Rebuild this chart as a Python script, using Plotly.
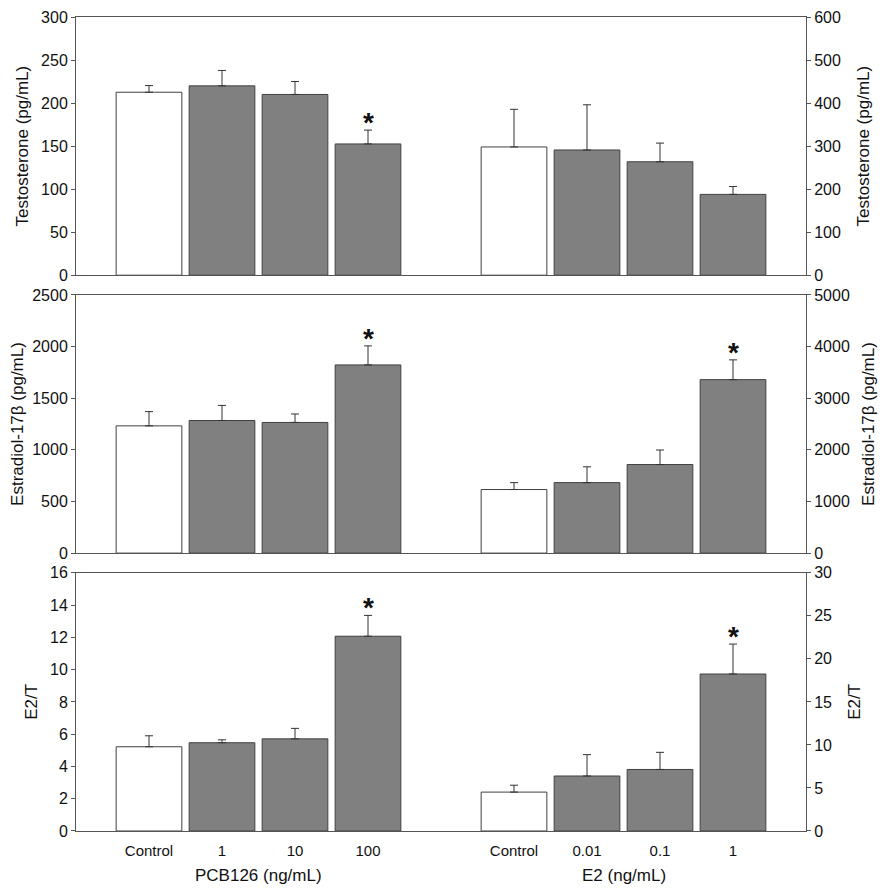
import plotly.graph_objects as go

# category positions: PCB126 group on left axis, E2 group on right axis
pcb_pos = [0, 1, 2, 3]
e2_pos = [5, 6, 7, 8]
tick_pos = pcb_pos + e2_pos
tick_text = ["Control", "1", "10", "100", "Control", "0.01", "0.1", "1"]

# Testosterone (pg/mL)
t_pcb = [212.6, 220.0, 210.0, 152.5]
t_pcb_err = [7.7, 17.9, 15.0, 16.1]
t_e2 = [298, 291, 263.6, 187.8]
t_e2_err = [87.5, 105, 43.4, 18.2]

# Estradiol-17b (pg/mL)
e_pcb = [1232, 1284, 1265, 1822]
e_pcb_err = [138, 146, 82, 184]
e_e2 = [1231, 1365, 1715, 3359]
e_e2_err = [134, 306, 281, 383]

# E2/T ratio
r_pcb = [5.22, 5.47, 5.71, 12.07]
r_pcb_err = [0.68, 0.18, 0.65, 1.29]
r_e2 = [4.52, 6.39, 7.15, 18.24]
r_e2_err = [0.80, 2.48, 1.99, 3.48]

# significance stars per panel
star_pcb = [[False, False, False, True],
            [False, False, False, True],
            [False, False, False, True]]
star_e2 = [[False, False, False, False],
           [False, False, False, True],
           [False, False, False, True]]

fill = ["#FFFFFF", "#808080", "#808080", "#808080"]
edge = "#404040"
axis_col = "#555555"
font_family = "Liberation Sans, Arial, sans-serif"
txt = "#111111"

rows = [
    dict(pcb=t_pcb, pcb_err=t_pcb_err, e2=t_e2, e2_err=t_e2_err,
         lrange=[0, 300], rrange=[0, 600], ldtick=50, rdtick=100,
         title="Testosterone (pg/mL)"),
    dict(pcb=e_pcb, pcb_err=e_pcb_err, e2=e_e2, e2_err=e_e2_err,
         lrange=[0, 2500], rrange=[0, 5000], ldtick=500, rdtick=1000,
         title="Estradiol-17β (pg/mL)"),
    dict(pcb=r_pcb, pcb_err=r_pcb_err, e2=r_e2, e2_err=r_e2_err,
         lrange=[0, 16], rrange=[0, 30], ldtick=2, rdtick=5,
         title="E2/T"),
]

# three panels of ~258 px with 20 px gaps
domains = [[0.6828, 1.0], [0.3414, 0.6586], [0.0, 0.3172]]

fig = go.Figure()
annotations = []
layout = {}

for i, r in enumerate(rows):
    xa = "x" if i == 0 else f"x{i + 1}"
    yl = "y" if i == 0 else f"y{2 * i + 1}"
    yr = f"y{2 * i + 2}"

    fig.add_trace(go.Bar(
        x=pcb_pos, y=r["pcb"], xaxis=xa, yaxis=yl, width=0.9,
        marker=dict(color=fill, line=dict(color=edge, width=1)),
        error_y=dict(type="data", array=r["pcb_err"], arrayminus=[0] * 4,
                     symmetric=False, color="#333333", thickness=1, width=4),
        showlegend=False,
    ))
    fig.add_trace(go.Bar(
        x=e2_pos, y=r["e2"], xaxis=xa, yaxis=yr, width=0.9,
        marker=dict(color=fill, line=dict(color=edge, width=1)),
        error_y=dict(type="data", array=r["e2_err"], arrayminus=[0] * 4,
                     symmetric=False, color="#333333", thickness=1, width=4),
        showlegend=False,
    ))

    for j in range(4):
        if star_pcb[i][j]:
            annotations.append(dict(
                x=pcb_pos[j], y=r["pcb"][j] + r["pcb_err"][j], xref=xa, yref=yl,
                text="<b>*</b>", showarrow=False, yanchor="bottom", yshift=-10,
                font=dict(size=28, color=txt, family=font_family)))
        if star_e2[i][j]:
            annotations.append(dict(
                x=e2_pos[j], y=r["e2"][j] + r["e2_err"][j], xref=xa, yref=yr,
                text="<b>*</b>", showarrow=False, yanchor="bottom", yshift=-10,
                font=dict(size=28, color=txt, family=font_family)))

    xkey = "xaxis" if i == 0 else f"xaxis{i + 1}"
    ylkey = "yaxis" if i == 0 else f"yaxis{2 * i + 1}"
    yrkey = f"yaxis{2 * i + 2}"
    last = i == 2
    layout[xkey] = dict(
        domain=[0, 1], anchor=yl, range=[-1, 9],
        showline=True, linecolor=axis_col, linewidth=1, mirror=True,
        showgrid=False, zeroline=False, ticks="",
        tickmode="array", tickvals=tick_pos if last else [],
        ticktext=tick_text if last else [],
        showticklabels=last, ticklabelstandoff=6,
        tickfont=dict(size=15, color=txt, family=font_family),
    )
    for key, side, rng, dt, ov, so in [(ylkey, "left", r["lrange"], r["ldtick"], None, 8),
                                       (yrkey, "right", r["rrange"], r["rdtick"], yl, 17)]:
        ax = dict(
            domain=domains[i], anchor=xa, side=side, range=rng, dtick=dt,
            showline=True, linecolor=axis_col, linewidth=1,
            showgrid=False, zeroline=False, ticks="outside", ticklen=4,
            tickcolor=axis_col, automargin=False, ticklabeloverflow="allow",
            tickfont=dict(size=16, color=txt, family=font_family),
            title=dict(text=r["title"], standoff=so,
                       font=dict(size=17, color=txt, family=font_family)),
        )
        if ov:
            ax["overlaying"] = ov
        layout[key] = ax

# group labels under the bottom panel
for xpos, label in [(1.5, "PCB126 (ng/mL)"), (6.5, "E2 (ng/mL)")]:
    annotations.append(dict(x=xpos, y=-0.055, xref="x3", yref="paper", text=label,
                            showarrow=False, yanchor="middle",
                            font=dict(size=17, color=txt, family=font_family)))

# page body adds 8 px on each side, so the figure is 16 px smaller than the window
fig.update_layout(
    width=870, height=877,
    margin=dict(l=68, r=72, t=9, b=54),
    paper_bgcolor="#FFFFFF", plot_bgcolor="#FFFFFF",
    barmode="overlay",
    annotations=annotations,
    font=dict(family=font_family, color=txt),
    **layout,
)

fig.write_html("out.html")
